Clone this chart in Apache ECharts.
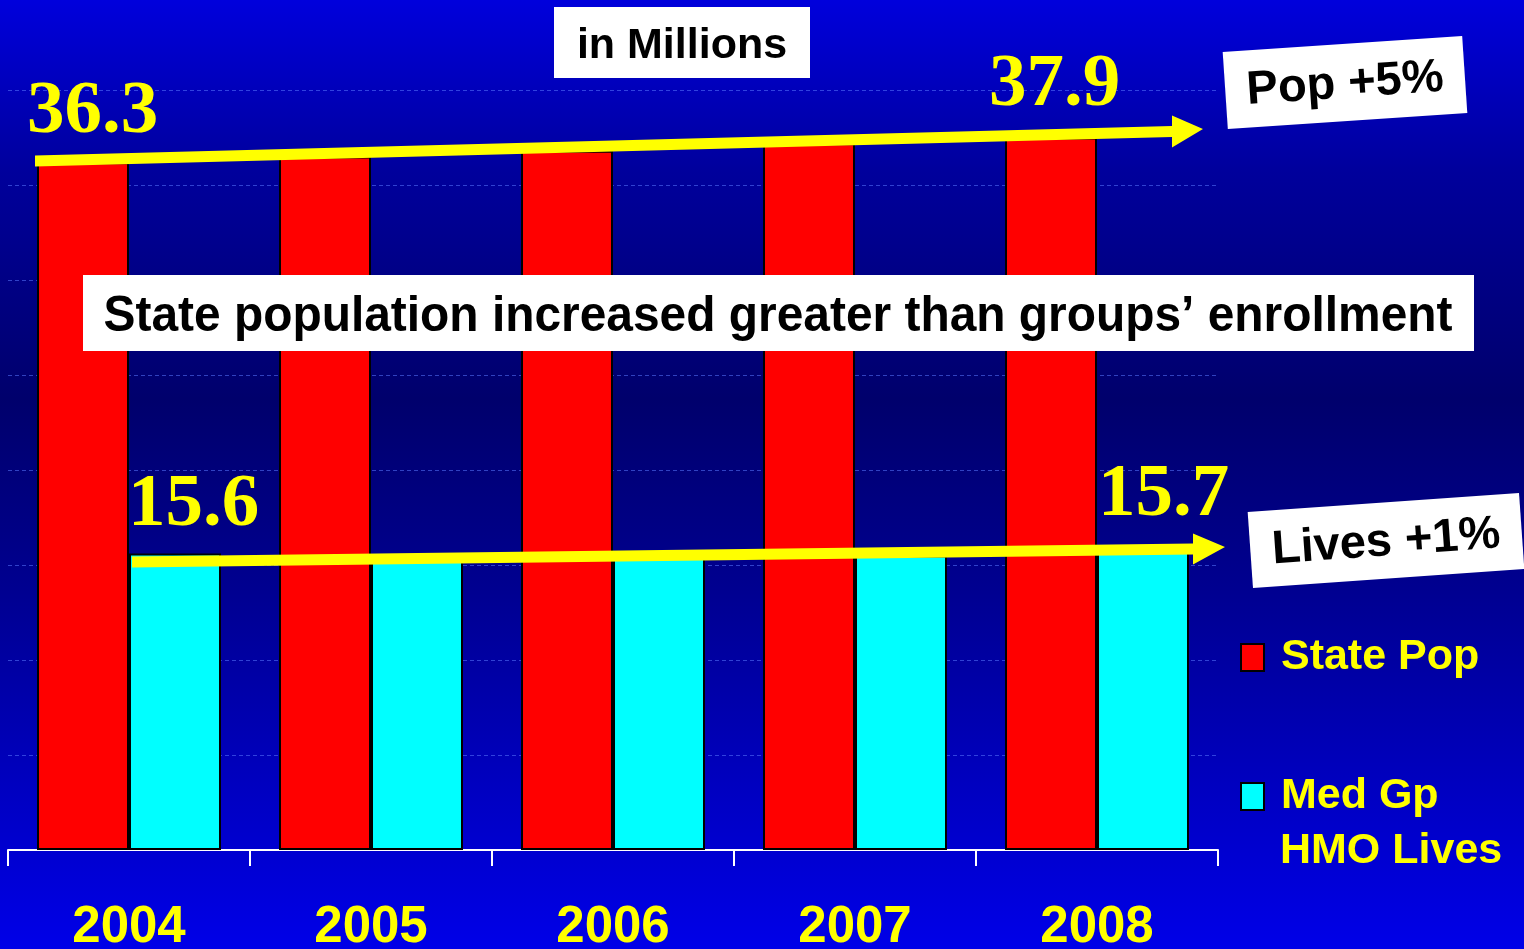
<!DOCTYPE html>
<html>
<head>
<meta charset="utf-8">
<title>State Pop vs Med Gp HMO Lives</title>
<script src="https://cdn.jsdelivr.net/npm/echarts@6/dist/echarts.min.js"></script>
<style>
  html, body { margin: 0; padding: 0; background: #000080; }
  #chart { width: 1524px; height: 949px; }
</style>
</head>
<body>
<div id="chart"></div>
<script>
// data (millions)
const years = ['2004', '2005', '2006', '2007', '2008']
const statePop = [36.2, 36.5, 36.8, 37.2, 37.5]
const medGpLives = [15.6, 15.4, 15.4, 15.5, 15.7]
const seriesNames = ['State Pop', 'Med Gp HMO Lives']
const callouts = ['36.3', '37.9', '15.6', '15.7']

const YELLOW = '#ffff00'
const SANS = '"Liberation Sans", Arial, sans-serif'
const SERIF = '"Liberation Serif", "Times New Roman", serif'

// banner text is a condensed bold face in the original; squeeze a normal bold to fit
const bannerText = 'State population increased greater than groups\u2019 enrollment'
const measureCtx = document.createElement('canvas').getContext('2d')
measureCtx.font = 'bold 50px ' + SANS
const bannerScale = 1349 / measureCtx.measureText(bannerText).width

const chart = echarts.init(document.getElementById('chart'))

const calloutText = (text, x, y) => ({
  type: 'text', z: 20,
  style: { text, x, y, fill: YELLOW, font: 'bold 75px ' + SERIF, align: 'left', verticalAlign: 'middle' }
})

const tiltedBox = (text, cx, cy, w, h, angle) => ({
  type: 'group', x: cx, y: cy, rotation: angle, z: 20,
  children: [
    { type: 'rect', z: 20, shape: { x: -w / 2, y: -h / 2, width: w, height: h }, style: { fill: '#fff' } },
    { type: 'text', z: 21, style: { text, x: 0, y: 2, fill: '#000', font: 'bold 47px ' + SANS, align: 'center', verticalAlign: 'middle' } }
  ]
})

// arrow as one polygon: shaft start, shaft end, head
const arrow = (x0, y0, x1, y1, tipX, tipY, shaft, head) => ({
  type: 'polygon', z: 15,
  shape: {
    points: [
      [x0, y0 - shaft / 2], [x1, y1 - shaft / 2], [x1, y1 - head / 2],
      [tipX, tipY],
      [x1, y1 + head / 2], [x1, y1 + shaft / 2], [x0, y0 + shaft / 2]
    ]
  },
  style: { fill: YELLOW }
})

const option = {
  animation: false,
  backgroundColor: {
    type: 'linear', x: 0, y: 0, x2: 0, y2: 1,
    colorStops: [
      { offset: 0, color: '#0000dc' },
      { offset: 0.18, color: '#00009c' },
      { offset: 0.42, color: '#00006c' },
      { offset: 0.62, color: '#000090' },
      { offset: 1, color: '#0000e8' }
    ]
  },
  grid: { left: 8, right: 306, top: 90, bottom: 99, outerBoundsMode: 'none', containLabel: false },
  legend: {
    orient: 'vertical',
    left: 1240, top: 636,
    padding: 0,
    itemWidth: 23, itemHeight: 27,
    itemGap: 96,
    icon: 'rect',
    data: seriesNames,
    formatter: name => ' ' + (name === seriesNames[1] ? 'Med Gp' : name),
    textStyle: { color: YELLOW, fontSize: 43, fontWeight: 'bold', fontFamily: SANS }
  },
  xAxis: {
    type: 'category',
    data: years,
    axisLine: { lineStyle: { color: '#fff', width: 2 } },
    axisTick: { show: true, length: 16, lineStyle: { color: '#fff', width: 2 } },
    axisLabel: { color: YELLOW, fontSize: 51, fontWeight: 'bold', fontFamily: SANS, margin: 52 }
  },
  yAxis: {
    type: 'value', min: 0, max: 40, interval: 5,
    axisLine: { show: false }, axisTick: { show: false }, axisLabel: { show: false },
    splitLine: { lineStyle: { color: 'rgba(90,120,255,0.55)', type: [4, 3], width: 1 } }
  },
  series: [
    {
      name: seriesNames[0], type: 'bar', data: statePop,
      barWidth: 92, barGap: 0,
      itemStyle: { color: '#ff0000', borderColor: '#000', borderWidth: 2 }
    },
    {
      name: seriesNames[1], type: 'bar', data: medGpLives,
      barWidth: 92, barGap: 0,
      itemStyle: { color: '#00ffff', borderColor: '#000', borderWidth: 2 }
    }
  ],
  graphic: [
    // "in Millions" box
    { type: 'rect', z: 20, shape: { x: 554, y: 7, width: 256, height: 71 }, style: { fill: '#fff' } },
    { type: 'text', z: 21, style: { text: 'in Millions', x: 682, y: 46, fill: '#000', font: 'bold 43px ' + SANS, align: 'center', verticalAlign: 'middle' } },
    // banner
    { type: 'rect', z: 20, shape: { x: 83, y: 275, width: 1391, height: 76 }, style: { fill: '#fff' } },
    {
      type: 'text', z: 21, x: 778, y: 317, scaleX: bannerScale,
      style: {
        text: bannerText, x: 0, y: 0, fill: '#000', font: 'bold 50px ' + SANS,
        align: 'center', verticalAlign: 'middle',
        textShadowColor: '#9a9a9a', textShadowOffsetX: 3, textShadowOffsetY: 3
      }
    },
    // trend arrows
    arrow(35, 161, 1172, 131.5, 1203, 129, 11, 32),
    arrow(132, 562, 1193, 549, 1225, 547, 11, 31),
    // callout numbers
    calloutText(callouts[0], 27, 113),
    calloutText(callouts[1], 989, 86),
    calloutText(callouts[2], 128, 506),
    calloutText(callouts[3], 1098, 496),
    // tilted % boxes
    tiltedBox('Pop +5%', 1345, 82.5, 240, 77, 0.067),
    tiltedBox('Lives +1%', 1386, 540.5, 272, 76, 0.07),
    // second line of the legend label
    { type: 'text', z: 21, style: { text: 'HMO Lives', x: 1280, y: 851, fill: YELLOW, font: 'bold 43px ' + SANS, align: 'left', verticalAlign: 'middle' } }
  ]
}

chart.setOption(option)
</script>
</body>
</html>
